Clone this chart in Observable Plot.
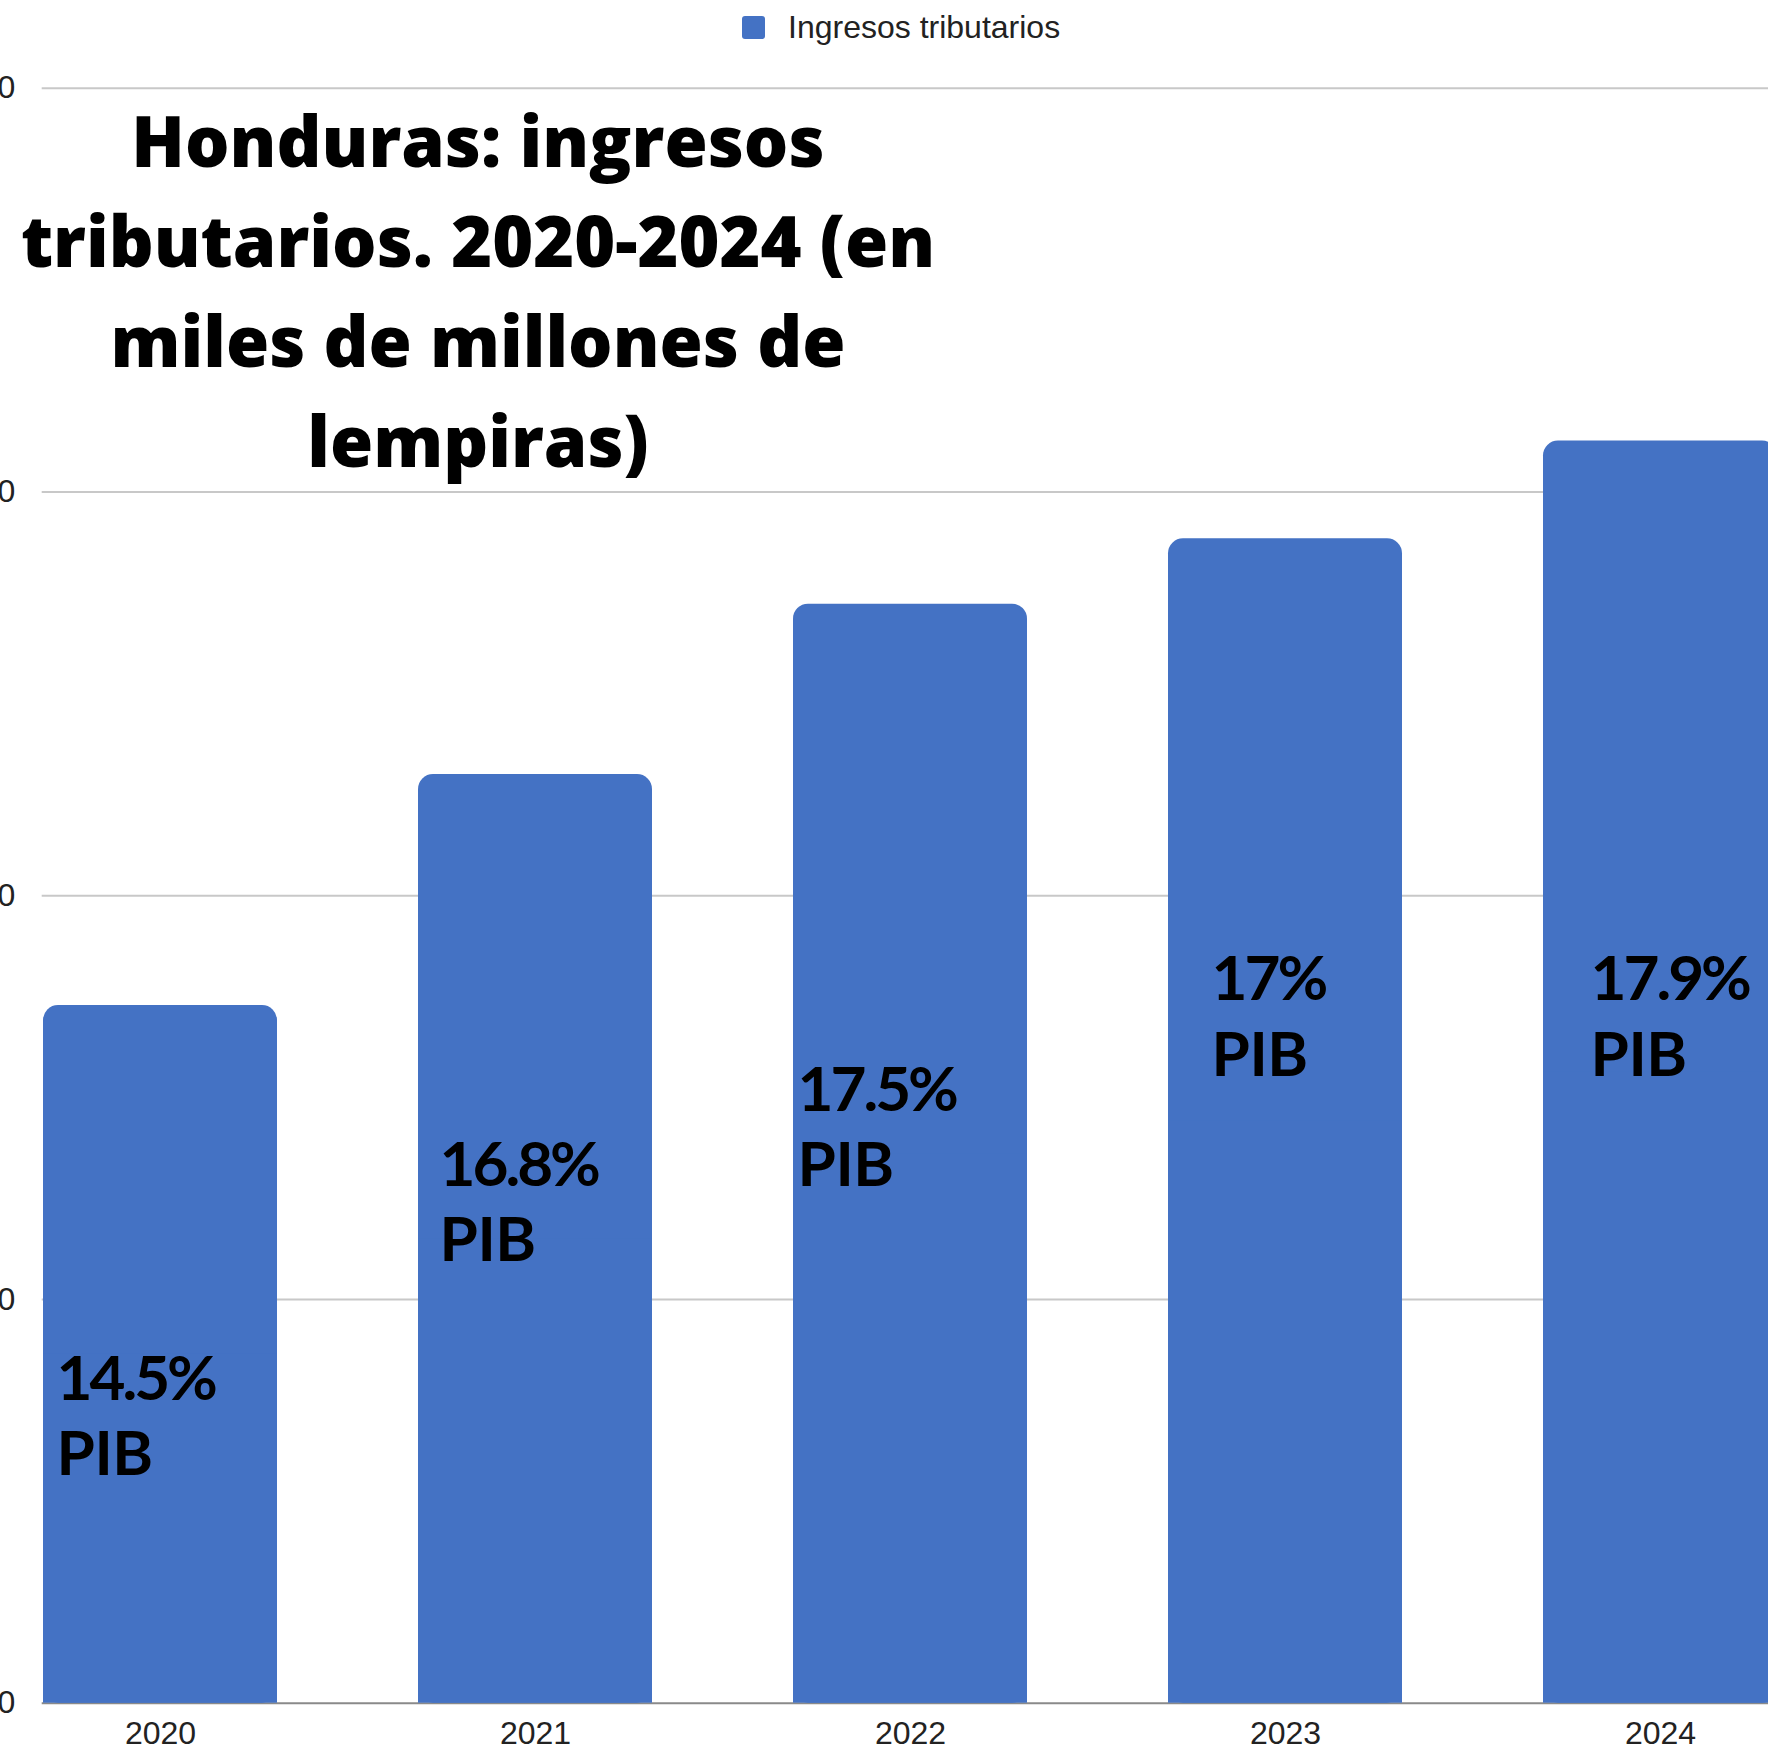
<!DOCTYPE html>
<html>
<head>
<meta charset="utf-8">
<script src="https://cdn.jsdelivr.net/npm/d3@7"></script>
<script src="https://cdn.jsdelivr.net/npm/@observablehq/plot@0.6"></script>
<style>
  html, body { margin: 0; padding: 0; overflow: hidden; background: #fff; width: 1768px; height: 1751px; }
  #wrap { position: relative; width: 1768px; height: 1751px; }
  #legend { position: absolute; left: 742px; top: 9px; display: flex; align-items: center;
    font-family: "Liberation Sans", Arial, sans-serif; font-size: 32px; color: #222; }
  #legend .sw { width: 23px; height: 23px; background: #4472C4; border-radius: 3px; margin-right: 23px; }
  #title { position: absolute; left: 0; width: 956px; top: 90px; text-align: center;
    font-family: "Open Sans", sans-serif; font-weight: 800; font-size: 70px; line-height: 100px; color: #000; }
  #chart g[font-size="62"] text tspan { letter-spacing: -3px; }
  #chart g[font-size="62"] text tspan:nth-child(2) { letter-spacing: -0.5px; }
</style>
</head>
<body>
<div id="wrap">
  <div id="chart"></div>
  <div id="legend"><div class="sw"></div><span>Ingresos tributarios</span></div>
  <div id="title">Honduras: ingresos<br>tributarios. 2020-2024 (en<br>miles de millones de<br>lempiras)</div>
</div>
<script>
// Data (miles de millones de lempiras)
const years = ["2020", "2021", "2022", "2023", "2024"];
const ingresos = [86.4, 115.0, 136.1, 144.2, 156.3];
const pctPIB = ["14.5%", "16.8%", "17.5%", "17%", "17.9%"];
const yTicks = [0, 50, 100, 150, 200];

// Annotation anchors (value units of the y scale) and horizontal offsets
const labelY = [28.2, 54.7, 64.0, 77.7, 77.7];
const labelDx = [-104, -96, -113, -74, -70];

const data = years.map((y, i) => ({year: y, value: ingresos[i], pct: pctPIB[i], ly: labelY[i]}));

const blue = "#4472C4";
const W = 1768, H = 1751;

const labelMarks = data.map((d, i) => Plot.text([d], {
  x: "year", y: "ly", text: dd => dd.pct + "\nPIB",
  textAnchor: "start", lineAnchor: "bottom", lineHeight: 1.22,
  dx: labelDx[i], fill: "#000", fontSize: 62, fontWeight: 700,
  fontFamily: "Lato, Inter, sans-serif"
}));

const chart = Plot.plot({
  width: W, height: H,
  marginLeft: 41.7, marginRight: 0, marginTop: 87.7, marginBottom: 48.3,
  style: {background: "#fff", overflow: "hidden", fontFamily: "'Liberation Sans', Arial, sans-serif", fontSize: "32px", color: "#222"},
  x: {domain: years, range: [41.7, 1778.4], paddingInner: 0.375, paddingOuter: 0, label: null},
  y: {domain: [0, 200], label: null},
  marks: [
    Plot.gridY(yTicks.slice(1), {stroke: "#c8c8c8", strokeOpacity: 1, strokeWidth: 2}),
    Plot.ruleY([0], {stroke: "#8a8a8a", strokeWidth: 2}),
    Plot.barY(data, {x: "year", y: "value", fill: blue, rx: 15}),
    Plot.barY(data, {x: "year", y: d => d.value / 2, fill: blue}),
    Plot.axisY(yTicks, {tickSize: 0, tickPadding: 27, fontSize: 32, fill: "#222", label: null}),
    Plot.axisX({tickSize: 0, tickPadding: 18, fontSize: 32, fill: "#222", label: null}),
    ...labelMarks
  ]
});
document.getElementById("chart").appendChild(chart);
</script>
</body>
</html>
